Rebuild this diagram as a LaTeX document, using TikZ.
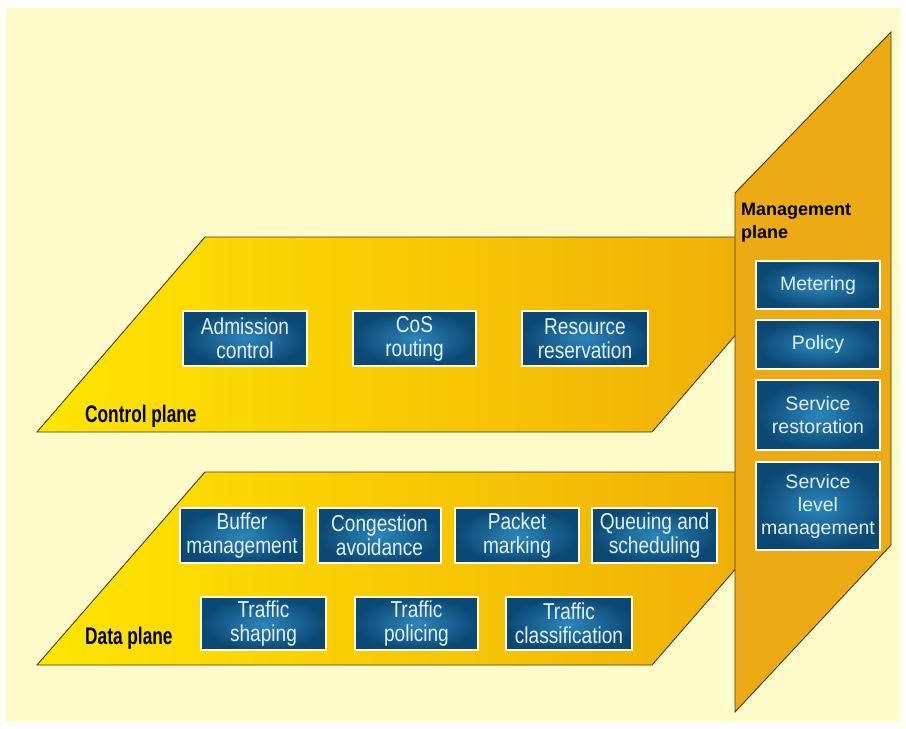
\documentclass[tikz,border=0pt]{standalone}
\usepackage{fontspec}
\setmainfont{Liberation Sans}
\newfontfamily\boxfont[FakeStretch=0.83]{Liberation Sans}
\newfontfamily\labelfont[FakeStretch=0.72]{Liberation Sans}

\definecolor{paper}{HTML}{FFFBCB}
\definecolor{planeyellow}{HTML}{FFE600}
\definecolor{planemid}{HTML}{FCCC00}
\definecolor{planeorange}{HTML}{EEAA08}
\definecolor{mgmtorange}{HTML}{ECAA14}
\definecolor{edgeline}{HTML}{4A3A10}
\definecolor{boxout}{HTML}{0B4874}
\definecolor{boxin}{HTML}{2C86BC}
\definecolor{boxrim}{HTML}{FFFCE0}
\definecolor{boxtext}{HTML}{E4F2FF}

\begin{document}
\begin{tikzpicture}[x=1pt,y=-1pt,
  planeedge/.style={draw=edgeline, line width=0.9pt, line join=miter},
  svcbox/.style={draw=boxrim, line width=2pt, inner color=boxin, outer color=boxout,
    text=boxtext, align=center, inner sep=0pt,
    font=\boxfont\fontsize{23}{24}\selectfont},
  mgmtbox/.style={svcbox, font=\fontsize{19.5}{23}\selectfont,
    minimum width=124pt},
  planelabel/.style={anchor=base west, inner sep=0pt, text=black,
    font=\labelfont\bfseries\fontsize{24}{26}\selectfont}]

% page and paper
\useasboundingbox (0,0) rectangle (906,729);
\fill[white] (0,0) rectangle (906,729);
\fill[paper] (6,8) rectangle (900,722);

% control plane (its far end runs under the management plane)
\path[planeedge, left color=planeyellow, middle color=planemid, right color=planeorange]
  (37,432) -- (205,237) -- (820,237) -- (652,432) -- cycle;
% data plane
\path[planeedge, left color=planeyellow, middle color=planemid, right color=planeorange]
  (37,665) -- (205,472) -- (820,472) -- (652,665) -- cycle;
% management plane
\path[planeedge, fill=mgmtorange]
  (735,193) -- (891,32) -- (891,545) -- (735,712) -- cycle;

% plane titles
\node[planelabel] (ctrl) at (85,422) {Control plane};
\node[planelabel] (data) at (85,644) {Data plane};
\node[anchor=north west, align=left, inner sep=0pt, text=black,
  font=\bfseries\fontsize{18}{23}\selectfont] (mgmt) at (741,203)
  {Management\\plane};

% control plane functions
\node[svcbox, minimum width=124pt, minimum height=55pt] (adm) at (245,338.5) {Admission\\control};
\node[svcbox, minimum width=123pt, minimum height=55pt] (cos) at (414.5,338.5) {CoS\\routing};
\node[svcbox, minimum width=126pt, minimum height=55pt] (res) at (585,338.5) {Resource\\reservation};

% data plane functions
\node[svcbox, minimum width=124pt, minimum height=55pt] (buf) at (242,535.5) {Buffer\\management};
\node[svcbox, minimum width=123pt, minimum height=55pt] (cong) at (379.5,535.5) {Congestion\\avoidance};
\node[svcbox, minimum width=124pt, minimum height=55pt] (pkt) at (517,535.5) {Packet\\marking};
\node[svcbox, minimum width=125pt, minimum height=55pt] (queue) at (654.5,535.5) {Queuing and\\scheduling};
\node[svcbox, minimum width=125pt, minimum height=53pt] (shape) at (263.5,623.5) {Traffic\\shaping};
\node[svcbox, minimum width=123pt, minimum height=53pt] (police) at (416.5,623.5) {Traffic\\policing};
\node[svcbox, minimum width=126pt, minimum height=53pt] (class) at (569,623.5) {Traffic\\classification};

% management plane functions
\node[mgmtbox, minimum height=48pt] (meter) at (818,285) {Metering};
\node[mgmtbox, minimum height=49pt] (policy) at (818,344.5) {Policy};
\node[mgmtbox, minimum height=70pt] (restore) at (818,415) {Service\\restoration};
\node[mgmtbox, minimum height=88pt] (slm) at (818,506) {Service\\level\\management};
\end{tikzpicture}
\end{document}
